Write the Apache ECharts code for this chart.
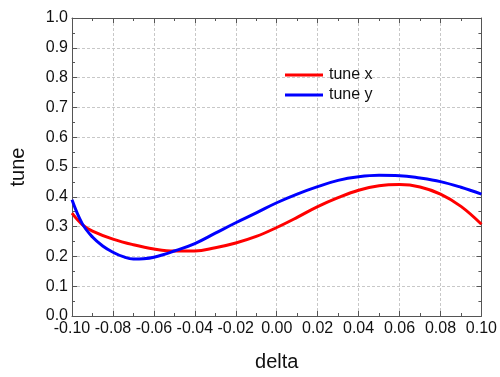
<!DOCTYPE html>
<html>
<head>
<meta charset="utf-8">
<script src="https://cdn.jsdelivr.net/npm/echarts@6/dist/echarts.min.js"></script>
<style>html,body{margin:0;padding:0;background:#fff}#c{width:500px;height:377px}</style>
</head>
<body>
<div id="c"></div>
<script>
const xTitle = 'delta';
const yTitle = 'tune';
const seriesNames = ['tune x', 'tune y'];
const deltaX = [-0.100, -0.095, -0.090, -0.080, -0.070, -0.060, -0.050, -0.040, -0.030, -0.020, -0.010, 0.000, 0.010, 0.020, 0.030, 0.040, 0.050, 0.060, 0.070, 0.080, 0.090, 0.100];
const tuneX = [0.345, 0.307, 0.285, 0.258, 0.239, 0.225, 0.218, 0.218, 0.229, 0.245, 0.267, 0.297, 0.331, 0.367, 0.397, 0.422, 0.437, 0.441, 0.433, 0.409, 0.368, 0.308];
const deltaY = [-0.100, -0.095, -0.090, -0.085, -0.080, -0.075, -0.070, -0.065, -0.060, -0.050, -0.040, -0.030, -0.020, -0.010, 0.000, 0.010, 0.020, 0.030, 0.040, 0.050, 0.060, 0.070, 0.080, 0.090, 0.100];
const tuneY = [0.390, 0.310, 0.265, 0.235, 0.214, 0.199, 0.191, 0.192, 0.197, 0.218, 0.243, 0.278, 0.313, 0.346, 0.380, 0.409, 0.434, 0.455, 0.467, 0.472, 0.471, 0.463, 0.451, 0.432, 0.409];

const font = 'Liberation Sans, Arial, sans-serif';
const axisColor = '#555';
const chart = echarts.init(document.getElementById('c'), null, {renderer: 'canvas'});

function xAx(extra) {
  return Object.assign({
    type: 'value', min: -0.1, max: 0.1, interval: 0.02,
    axisLine: {show: true, onZero: false, lineStyle: {color: axisColor, width: 1}},
    axisTick: {show: true, inside: true, length: 5, lineStyle: {color: axisColor}},
    minorTick: {show: true, splitNumber: 2, length: 3, lineStyle: {color: axisColor}},
    splitLine: {show: false}
  }, extra);
}
function yAx(extra) {
  return Object.assign({
    type: 'value', min: 0, max: 1, interval: 0.1,
    axisLine: {show: true, onZero: false, lineStyle: {color: axisColor, width: 1}},
    axisTick: {show: true, inside: true, length: 5, lineStyle: {color: axisColor}},
    minorTick: {show: true, splitNumber: 2, length: 3, lineStyle: {color: axisColor}},
    splitLine: {show: false}
  }, extra);
}

chart.setOption({
  animation: false,
  backgroundColor: '#fff',
  grid: {left: 72, right: 17, top: 18, bottom: 53, containLabel: false},
  legend: {
    orient: 'vertical', left: 280, top: 62, itemGap: 4,
    itemWidth: 38, itemHeight: 3, icon: 'rect',
    textStyle: {fontFamily: font, fontSize: 16, color: '#111', padding: [0, 0, 0, 1]},
    data: seriesNames
  },
  xAxis: [
    xAx({
      position: 'bottom',
      name: xTitle, nameLocation: 'middle', nameGap: 36,
      nameTextStyle: {fontFamily: font, fontSize: 20, color: '#111'},
      axisLabel: {fontFamily: font, fontSize: 16, color: '#111', margin: 5,
        formatter: v => (Math.abs(v) < 1e-9 ? 0 : v).toFixed(2)},
      splitLine: {show: true, lineStyle: {color: '#c8c8c8', type: [3, 2], width: 1}}
    }),
    xAx({position: 'top', axisLabel: {show: false}})
  ],
  yAxis: [
    yAx({
      position: 'left',
      name: yTitle, nameLocation: 'middle', nameGap: 44, nameRotate: 90,
      nameTextStyle: {fontFamily: font, fontSize: 20, color: '#111'},
      axisLabel: {fontFamily: font, fontSize: 16, color: '#111', margin: 4,
        formatter: v => v.toFixed(1)},
      splitLine: {show: true, lineStyle: {color: '#c8c8c8', type: [3, 2], width: 1}}
    }),
    yAx({position: 'right', axisLabel: {show: false}})
  ],
  series: [
    {
      name: seriesNames[0], type: 'line', xAxisIndex: 0, yAxisIndex: 0,
      data: deltaX.map((d, i) => [d, tuneX[i]]),
      smooth: 0.4, showSymbol: false, symbol: 'none', clip: true,
      itemStyle: {color: '#ff0000'},
      lineStyle: {color: '#ff0000', width: 3}
    },
    {
      name: seriesNames[1], type: 'line', xAxisIndex: 0, yAxisIndex: 0,
      data: deltaY.map((d, i) => [d, tuneY[i]]),
      smooth: 0.4, showSymbol: false, symbol: 'none', clip: true,
      itemStyle: {color: '#0000ff'},
      lineStyle: {color: '#0000ff', width: 3}
    }
  ]
});
</script>
</body>
</html>
